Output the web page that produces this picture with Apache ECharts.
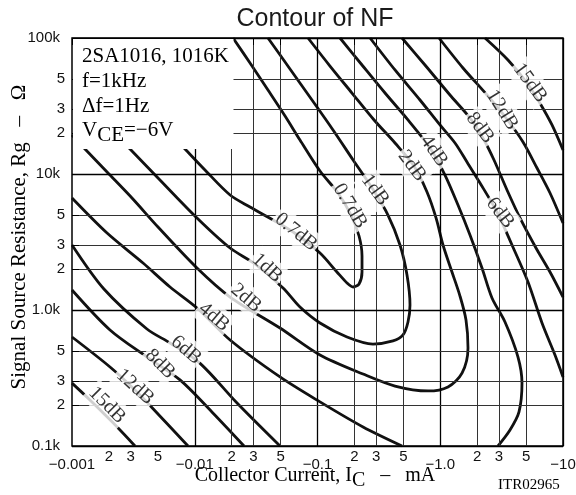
<!DOCTYPE html>
<html><head><meta charset="utf-8">
<script src="https://cdn.jsdelivr.net/npm/echarts@6/dist/echarts.min.js"></script>
<style>html,body{margin:0;padding:0;background:#fff}#c{width:576px;height:495px}</style>
</head><body><div id="c"></div>
<script>
// ---- axis ticks (collector current in mA, source resistance in kOhm) ----
const xTickValues = [0.001,0.002,0.003,0.005,0.01,0.02,0.03,0.05,0.1,0.2,0.3,0.5,1,2,3,5,10];
const xTickLabels = ['−0.001','2','3','5','−0.01','2','3','5','−0.1','2','3','5','−1.0','2','3','5','−10'];
const yTickValues = [0.1,0.2,0.3,0.5,1,2,3,5,10,20,30,50,100];
const yTickLabels = ['0.1k','2','3','5','1.0k','2','3','5','10k','2','3','5','100k'];

// ---- contour curves: x = |Ic| (mA), y = Rg (kOhm) ----
const nf07X = [0.00572,0.00833,0.01212,0.0194,0.0282,0.0434,0.0668,0.1048,0.144,0.174,0.195,0.218,0.2305,0.2305,0.218,0.1875,0.1469,0.1048,0.0720,0.0544,0.0395,0.0282,0.0205];
const nf07Y = [21.79,15.27,10.70,7.007,5.72,4.59,3.622,2.625,1.903,1.580,1.476,1.553,1.903,2.495,3.50,4.994,7.25,10.52,17.78,26.7,41.46,65.5,100];
const nf1X = [0.00204,0.00297,0.00502,0.01043,0.0194,0.0310,0.0524,0.0720,0.1048,0.174,0.283,0.412,0.497,0.546,0.567,0.536,0.470,0.375,0.278,0.195,0.1338,0.0902,0.0597,0.0395];
const nf1Y = [21.79,15.27,9.35,4.75,2.857,2.179,1.452,1.052,0.803,0.633,0.562,0.592,0.655,0.816,1.089,1.809,3.006,4.994,7.89,12.67,21.06,35.0,59.2,100];
const nf2X = [0.001,0.001276,0.00193,0.00308,0.00502,0.01043,0.0194,0.0495,0.1048,0.235,0.428,0.795,1.156,1.504,1.683,1.621,1.448,1.246,1.053,0.924,0.780,0.611,0.428,0.289,0.191,0.1264,0.0837];
const nf2Y = [19.36,15.27,10.34,6.66,4.075,2.036,1.246,0.737,0.467,0.338,0.276,0.254,0.272,0.343,0.526,0.845,1.267,1.903,3.006,4.75,7.37,11.45,16.9,24.96,39.4,62.2,100];
const nf4LowX = [0.001,0.00193,0.00379,0.00629,0.01043,0.0194,0.0495,0.1048,0.235,0.488];
const nf4LowY = [6.66,3.68,2.216,1.476,1.034,0.602,0.322,0.211,0.138,0.1];
const nf4HighX = [0.1525,0.2305,0.355,0.546,0.825,1.093,1.395,1.747,2.188,2.640,3.369,4.299,4.634,4.381,3.700,2.955];
const nf4HighY = [100,63.3,39.4,24.96,15.53,9.83,5.916,3.56,2.036,1.225,0.816,0.451,0.290,0.178,0.131,0.1];
const nf6LowX = [0.001,0.00182,0.00408,0.00629,0.0110,0.0221,0.0495];
const nf6LowY = [3.006,1.427,0.725,0.572,0.407,0.207,0.1];
const nf6HighX = [0.268,0.428,0.684,0.995,1.319,1.651,2.108,2.900,3.842,5.187,6.745,8.604,10];
const nf6HighY = [100,58.2,35.0,22.93,16.9,12.25,8.59,5.256,3.006,1.607,0.803,0.467,0.322];
const nf8LowX = [0.001,0.00204,0.00408,0.00758,0.0138,0.0252];
const nf8LowY = [1.403,0.713,0.451,0.306,0.178,0.1];
const nf8HighX = [0.488,0.751,1.200,1.747,2.272,2.741,3.498,4.548,6.026,7.838,10];
const nf8HighY = [100,63.3,38.1,25.81,17.78,12.67,7.63,4.59,2.857,1.903,1.246];
const nf12LowX = [0.001,0.00204,0.00326,0.00493,0.00881];
const nf12LowY = [0.633,0.381,0.258,0.175,0.1];
const nf12HighX = [0.977,1.532,2.404,3.433,4.722,6.140,7.838,10];
const nf12HighY = [100,60.2,38.1,25.81,17.19,11.07,7.25,4.36];
const nf15LowX = [0.001,0.0014,0.00216,0.00326];
const nf15LowY = [0.290,0.218,0.148,0.1];
const nf15HighX = [2.315,3.563,5.090,6.620,8.137,10];
const nf15HighY = [100,68.9,46.7,32.2,22.93,15.01];

// ---- in-line contour labels ----
const labelTexts = ['0.7dB','0.7dB','1dB','1dB','2dB','2dB','4dB','4dB','6dB','6dB','8dB','8dB','12dB','12dB','15dB','15dB'];
const labelX = [0.0668,0.184,0.0388,0.294,0.0262,0.589,0.01435,0.889,0.00849,3.07,0.00521,2.108,0.00326,3.185,0.00193,5.39];
const labelY = [3.746,5.82,2.036,7.63,1.225,11.45,0.888,14.76,0.508,5.17,0.401,21.79,0.272,29.6,0.200,46.7];
// style: clockwise text angle of each label (degrees)
const labelAngles = [39,59,43,54,40,53,40,55,40,52,45,53,42,58,45,54];

const curves = [
  ['0.7dB', nf07X, nf07Y], ['1dB', nf1X, nf1Y], ['2dB', nf2X, nf2Y],
  ['4dB', nf4LowX, nf4LowY], ['4dB', nf4HighX, nf4HighY],
  ['6dB', nf6LowX, nf6LowY], ['6dB', nf6HighX, nf6HighY],
  ['8dB', nf8LowX, nf8LowY], ['8dB', nf8HighX, nf8HighY],
  ['12dB', nf12LowX, nf12LowY], ['12dB', nf12HighX, nf12HighY],
  ['15dB', nf15LowX, nf15LowY], ['15dB', nf15HighX, nf15HighY]
];

const SERIF = 'Liberation Serif';
const SANS = 'Liberation Sans';
const isMajor = v => Math.abs(Math.log10(v) - Math.round(Math.log10(v))) < 1e-6;
function findIdx(arr, v) {
  return arr.findIndex(t => Math.abs(Math.log10(t) - Math.log10(v)) < 1e-4);
}
function fmtX(v) {
  const i = findIdx(xTickValues, v); if (i < 0) return '';
  return isMajor(v) ? '{maj|' + xTickLabels[i] + '}' : xTickLabels[i];
}
function fmtY(v) {
  const i = findIdx(yTickValues, v); if (i < 0) return '';
  return isMajor(v) ? '{maj|' + yTickLabels[i] + '}' : yTickLabels[i];
}

const chart = echarts.init(document.getElementById('c'), null, {renderer: 'canvas'});

const gridLines = [];
xTickValues.forEach(v => gridLines.push({xAxis: v, lineStyle: {color: isMajor(v) ? '#000' : '#333', width: isMajor(v) ? 1.3 : 1, type: 'solid'}}));
yTickValues.forEach(v => gridLines.push({yAxis: v, lineStyle: {color: isMajor(v) ? '#000' : '#333', width: isMajor(v) ? 1.3 : 1, type: 'solid'}}));

const series = [{
  type: 'line', data: [], silent: true, z: 1, animation: false,
  markLine: {silent: true, symbol: ['none', 'none'], label: {show: false}, animation: false, data: gridLines}
}];
curves.forEach(([name, xs, ys]) => series.push({
  type: 'line', name, data: xs.map((x, i) => [x, ys[i]]), showSymbol: false, symbol: 'none',
  smooth: 0.3, clip: true, z: 3, animation: false, silent: true,
  lineStyle: {color: '#111', width: 2.8}
}));
series.push({
  type: 'scatter', z: 6, symbolSize: 0, silent: true, animation: false,
  data: labelTexts.map((t, i) => ({value: [labelX[i], labelY[i]], label: {rotate: -labelAngles[i]}})),
  label: {show: true, position: 'inside', formatter: p => labelTexts[p.dataIndex],
    fontFamily: SERIF, fontSize: 20, color: '#000', backgroundColor: '#fff', padding: [3, 2]}
});

const axisCommon = {type: 'log', logBase: 10};
chart.setOption({
  animation: false,
  backgroundColor: '#fff',
  grid: {left: 72, top: 38, right: 13, bottom: 49, show: true, borderColor: '#000', borderWidth: 1.5, backgroundColor: '#fff', containLabel: false, outerBoundsMode: 'none'},
  xAxis: [
    Object.assign({}, axisCommon, {min: 0.001, max: 10, position: 'bottom',
      axisLine: {show: false}, axisTick: {show: false}, splitLine: {show: false}, minorSplitLine: {show: false},
      axisLabel: {customValues: xTickValues, formatter: fmtX, fontFamily: SANS, fontSize: 15, color: '#111', margin: 3,
        rich: {maj: {fontFamily: SANS, fontSize: 15, color: '#111', padding: [8, 0, 0, 0]}}}}),
    Object.assign({}, axisCommon, {min: 0.001, max: 10, position: 'top', z: 60,
      axisLine: {show: false}, splitLine: {show: false}, axisLabel: {show: false},
      axisTick: {show: true, inside: true, length: 7, customValues: xTickValues, lineStyle: {color: '#000', width: 1}}})
  ],
  yAxis: [
    Object.assign({}, axisCommon, {min: 0.1, max: 100, position: 'left',
      axisLine: {show: false}, axisTick: {show: false}, splitLine: {show: false},
      axisLabel: {customValues: yTickValues, formatter: fmtY, fontFamily: SANS, fontSize: 15, color: '#111', margin: 7,
        rich: {maj: {fontFamily: SANS, fontSize: 15, color: '#111', padding: [0, 5, 0, 0]}}}}),
    Object.assign({}, axisCommon, {min: 0.1, max: 100, position: 'left', z: 60,
      axisLine: {show: false}, splitLine: {show: false}, axisLabel: {show: false},
      axisTick: {show: true, inside: true, length: 7, customValues: yTickValues, lineStyle: {color: '#000', width: 1}}})
  ],
  series,
  graphic: {elements: [
    {type: 'rect', z: 100, silent: true, shape: {x: 73, y: 39, width: 160.5, height: 110}, style: {fill: '#fff'}},
    {type: 'text', z: 101, x: 82, y: 56, style: {text: '2SA1016, 1016K', fontFamily: SERIF, fontSize: 21, fill: '#000', verticalAlign: 'middle'}},
    {type: 'text', z: 101, x: 82, y: 81, style: {text: 'f=1kHz', fontFamily: SERIF, fontSize: 21, fill: '#000', verticalAlign: 'middle'}},
    {type: 'text', z: 101, x: 82, y: 106, style: {text: 'Δf=1Hz', fontFamily: SERIF, fontSize: 21, fill: '#000', verticalAlign: 'middle'}},
    {type: 'text', z: 101, x: 82, y: 120, style: {text: '{a|V}{b|CE}{a|=−6V}', verticalAlign: 'top', fill: '#000',
      rich: {a: {fontFamily: SERIF, fontSize: 21, lineHeight: 21, verticalAlign: 'top'},
             b: {fontFamily: SERIF, fontSize: 21, lineHeight: 21, padding: [5, 0, 0, 0], verticalAlign: 'top'}}}},
    {type: 'text', z: 101, x: 315, y: 19, style: {text: 'Contour of NF', fontFamily: SANS, fontSize: 25, fill: '#1a1a1a', align: 'center', verticalAlign: 'middle'}},
    {type: 'text', z: 101, x: 315, y: 466, style: {text: '{a|Collector Current, I}{b|C}{a|   –   mA}', align: 'center', verticalAlign: 'top', fill: '#000',
      rich: {a: {fontFamily: SERIF, fontSize: 20, lineHeight: 20, verticalAlign: 'top'},
             b: {fontFamily: SERIF, fontSize: 20, lineHeight: 20, padding: [5, 0, 0, 0], verticalAlign: 'top'}}}},
    {type: 'text', z: 101, x: 19, y: 237, rotation: Math.PI / 2, style: {text: 'Signal Source Resistance, Rg   –   Ω', fontFamily: SERIF, fontSize: 21, fill: '#000', align: 'center', verticalAlign: 'middle'}},
    {type: 'text', z: 101, x: 498, y: 485, style: {text: 'ITR02965', fontFamily: SERIF, fontSize: 15, fill: '#000', verticalAlign: 'middle'}}
  ]}
});
</script></body></html>
